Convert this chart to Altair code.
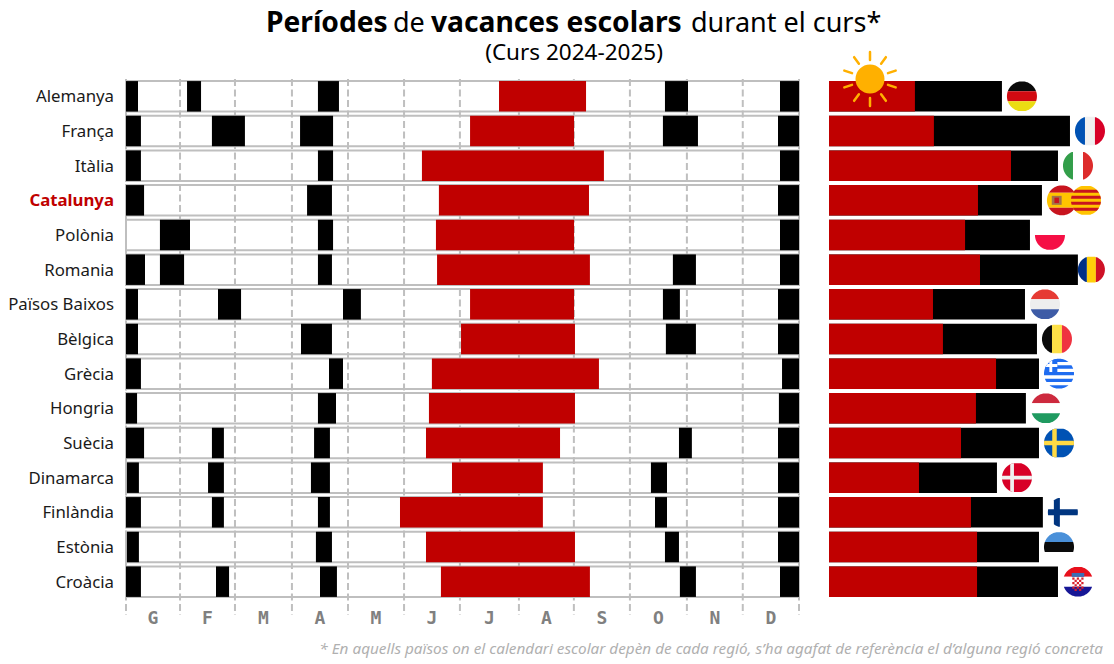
"""Script to recreate the school holidays chart (Curs 2024-2025)."""

import math

import altair as alt
import pandas as pd

FONT = "Noto Sans"
GREY = "#bfbfbf"
RED = "#c00000"

countries = ["Alemanya", "França", "Itàlia", "Catalunya", "Polònia", "Romania",
             "Països Baixos", "Bèlgica", "Grècia", "Hongria", "Suècia",
             "Dinamarca", "Finlàndia", "Estònia", "Croàcia"]

# start and end of the summer break, as day of the calendar year
summer_start = [202.3, 186.6, 160.5, 169.7, 168.1, 168.7, 186.6, 181.7,
                165.9, 164.3, 162.7, 176.8, 148.6, 162.7, 170.8]
summer_end = [249.5, 243.0, 259.2, 251.1, 243.0, 251.6, 243.0, 243.5,
              256.5, 243.5, 235.4, 226.1, 226.1, 243.5, 251.6]

# the other breaks of each country, in the same order
other_breaks = [
    [(0, 6.5), (33.1, 40.7), (104.1, 115.5), (292.3, 304.8), (354.7, 365)],
    [(0, 8.1), (46.6, 64.5), (94.4, 112.3), (291.2, 310.2), (353.6, 365)],
    [(0, 8.1), (104.1, 112.3), (354.7, 365)],
    [(0, 9.8), (98.2, 111.7), (353.6, 365)],
    [(18.4, 34.7), (104.1, 112.3), (354.7, 365)],
    [(0, 10.3), (18.4, 31.5), (104.1, 111.7), (296.6, 309.1), (354.7, 365)],
    [(0, 6.5), (49.9, 62.4), (117.7, 127.4), (291.2, 300.4), (353.6, 365)],
    [(0, 6.5), (94.9, 111.7), (292.8, 309.1), (353.6, 365)],
    [(0, 8.1), (110.1, 117.7), (355.8, 365)],
    [(0, 6), (104.1, 113.9), (354.1, 365)],
    [(0, 9.8), (46.6, 53.1), (102, 110.6), (299.9, 306.9), (353.6, 365)],
    [(0.5, 7), (44.5, 53.1), (100.3, 110.6), (284.7, 293.4), (353.6, 365)],
    [(0, 8.1), (46.6, 53.1), (104.1, 110.6), (286.9, 293.4), (353.6, 365)],
    [(0.5, 7), (103, 111.7), (292.3, 299.9), (353.6, 365)],
    [(0, 8.1), (48.8, 55.9), (105.2, 114.4), (300.4, 309.1), (354.7, 365)],
]

# total days in the right hand bars
summer_days = [46.6, 56.9, 98.7, 80.8, 73.8, 81.9, 56.4, 61.8,
               90.6, 79.7, 71.6, 48.8, 77.0, 80.3, 80.3]
other_days = [47.2, 73.8, 25.5, 34.7, 35.2, 53.1, 49.9, 51.0,
              23.3, 27.1, 42.3, 42.3, 39.0, 33.6, 43.9]

month_labels = ["G", "F", "M", "A", "M", "J", "J", "A", "S", "O", "N", "D"]
month_edges = [0, 29.3, 59.1, 90, 120.4, 150.8, 181.1, 213.1, 242.9, 273.3,
               304.2, 334.5, 365]


def disc_rect(x0, x1, y0, y1):
    """SVG path of a rectangle cut to the unit circle, for flag drawing."""
    left, right = [], []
    steps = 48
    for i in range(steps + 1):
        y = y0 + (y1 - y0) * i / steps
        half = math.sqrt(max(0, 1 - y * y))
        a, b = max(x0, -half), min(x1, half)
        if a < b:
            left.append(f"{a:.3f} {y:.3f}")
            right.append(f"{b:.3f} {y:.3f}")
    return "M" + " L".join(left + right[::-1]) + " Z"


def band(y0, y1, color):
    return (disc_rect(-1, 1, y0, y1), color)


def column(x0, x1, color):
    return (disc_rect(x0, x1, -1, 1), color)


def box(x0, x1, y0, y1, color):
    return (disc_rect(x0, x1, y0, y1), color)


def stripes(third_colors, maker):
    a, b, c = third_colors
    return [maker(-1, -1 / 3, a), maker(-1 / 3, 1 / 3, b), maker(1 / 3, 1, c)]


def checker():
    """Small red checks of the Croatian shield."""
    parts = []
    for i in range(5):
        for j in range(6):
            if (i + j) % 2 == 0:
                x, y = -0.38 + i * 0.15, -0.28 + j * 0.15
                parts.append(box(x, x + 0.15, y, y + 0.15, "#d8202c"))
    return parts


flag_parts = {
    "Alemanya": stripes(["#0a0a0a", "#d20a11", "#ebdc12"], band),
    "França": stripes(["#0052b4", "#f0f0f0", "#d80027"], column),
    "Itàlia": stripes(["#339e4a", "#ffffff", "#dd2c2c"], column),
    "Catalunya": [band(-1, -0.5, "#c8141e"), band(-0.5, 0.5, "#ffc400"),
                  band(0.5, 1, "#c8141e"), box(-0.68, -0.02, -0.3, 0.3, "#a2734a"),
                  box(-0.5, -0.2, -0.18, 0.18, "#c8141e")],
    "Polònia": [band(-1, 0, "#ffffff"), band(0, 1, "#f50f45")],
    "Països Baixos": stripes(["#e63b34", "#eeeeee", "#3d5ba6"], band),
    "Bèlgica": stripes(["#0a0a0a", "#fde047", "#ef3340"], column),
    "Grècia": [band(-1, 1, "#ffffff")]
    + [band(-1 + i * 2 / 9, -1 + (i + 1) * 2 / 9, "#1f6cf0") for i in (0, 2, 4, 6, 8)]
    + [box(-1, -0.11, -1, -0.11, "#1f6cf0"),
       box(-0.64, -0.45, -1, -0.11, "#ffffff"),
       box(-1, -0.11, -0.64, -0.45, "#ffffff")],
    "Hongria": stripes(["#cd2a3e", "#ffffff", "#1f9a60"], band),
    "Suècia": [band(-1, 1, "#0052b4"), column(-0.45, -0.15, "#ffda44"),
               band(-0.15, 0.15, "#ffda44")],
    "Dinamarca": [band(-1, 1, "#d80027"), column(-0.45, -0.2, "#f0f0f0"),
                  band(-0.13, 0.13, "#f0f0f0")],
    "Finlàndia": [column(-0.6, -0.2, "#003580"), band(-0.2, 0.2, "#003580")],
    "Estònia": stripes(["#4a90d9", "#0a0a0a", "#ffffff"], band),
    "Croàcia": stripes(["#e8101c", "#ffffff", "#171796"], band)
    + [box(-0.42, 0.42, -0.58, -0.32, "#3c6eb4")] + checker(),
}
romanian_flag = stripes(["#002f86", "#ffcf0a", "#ce1126"], column)
catalan_flag = [band(-1, 1, "#ffc400")] + [
    band(y, y + 0.2, "#c8141e") for y in (-0.7, -0.3, 0.1, 0.5)]

day_scale = alt.Scale(domain=[0, 365], nice=False, zero=False)
bar_scale = alt.Scale(domain=[0, 149.7], nice=False, zero=False)
row_scale = alt.Scale(domain=countries, paddingInner=0.12, paddingOuter=0.06)
row_y = alt.Y("country:N", scale=row_scale, axis=None, title=None)


def caption(text, x, y, size, **style):
    """A line of text placed relative to the left panel."""
    return alt.Chart(pd.DataFrame({"t": [text]})).mark_text(
        text=text, fontSize=size, font=FONT, baseline="alphabetic", **style
    ).encode(x=alt.value(x), y=alt.value(y))


def row_labels(names, **style):
    return alt.Chart(pd.DataFrame({"country": names})).mark_text(
        font=FONT, fontSize=16.8, align="right", dy=1, **style
    ).encode(x=alt.value(-12), y=row_y, text="country:N")


background = alt.Chart(pd.DataFrame({"country": countries, "a": 0, "b": 365})).mark_bar(
    fill="white", stroke=GREY, strokeWidth=2
).encode(
    x=alt.X("a:Q", scale=day_scale, axis=None),
    x2="b:Q",
    y=row_y,
)

edges = alt.Chart(pd.DataFrame({"day": month_edges})).mark_rule(
    color=GREY, strokeWidth=2, strokeDash=[7, 3.5]
).encode(
    x=alt.X("day:Q", scale=day_scale, axis=None),
    y=alt.value(0),
    y2=alt.value(536),
)

breaks_df = pd.DataFrame(
    [{"country": c, "a": a, "b": b}
     for c, spans in zip(countries, other_breaks) for a, b in spans]
)
breaks = alt.Chart(breaks_df).mark_bar(color="black").encode(
    x=alt.X("a:Q", scale=day_scale, axis=None), x2="b:Q", y=row_y
)

summer_df = pd.DataFrame({"country": countries, "a": summer_start, "b": summer_end})
summer = alt.Chart(summer_df).mark_bar(color=RED).encode(
    x=alt.X("a:Q", scale=day_scale, axis=None), x2="b:Q", y=row_y
)

month_df = pd.DataFrame({
    "label": month_labels,
    "mid": [(a + b) / 2 for a, b in zip(month_edges, month_edges[1:])],
})
months = alt.Chart(month_df).mark_text(
    font="DejaVu Sans Mono", fontWeight="bold", fontSize=18, color="#808080"
).encode(
    x=alt.X("mid:Q", scale=day_scale, axis=None),
    y=alt.value(540),
    text="label:N",
)

left = alt.layer(
    background, edges, breaks, summer, months,
    row_labels([c for c in countries if c != "Catalunya"], color="#1a1a1a"),
    row_labels(["Catalunya"], color="#c00000", fontWeight="bold"),
    caption("Períodes", 140, -47, 28.2, fontWeight="bold", align="left"),
    caption("de", 267, -47, 27, align="left"),
    caption("vacances escolars", 305, -47, 28.2, fontWeight="bold", align="left"),
    caption("durant el curs*", 565, -47, 27, align="left"),
    caption("(Curs 2024-2025)", 448, -19, 22.5, align="center"),
    caption("* En aquells països on el calendari escolar depèn de cada regió, "
            "s’ha agafat de referència el d’alguna regió concreta",
            977, 575, 15.3, fontStyle="italic", color="#b0b0b0", align="right"),
).properties(width=673, height=520)

totals = pd.DataFrame({
    "country": countries,
    "summer": summer_days,
    "total": [a + b for a, b in zip(summer_days, other_days)],
})
total_bars = alt.Chart(totals).mark_bar(color="black").encode(
    x=alt.X("total:Q", scale=bar_scale, axis=None), y=row_y
)
summer_bars = alt.Chart(totals).mark_bar(color=RED).encode(
    x=alt.X("summer:Q", scale=bar_scale, axis=None), y=row_y
)


def flag_layer(names, parts_of, offset, size=900):
    rows = [{"country": c, "total": totals.total[countries.index(c)], "path": p, "fill": f}
            for c in names for p, f in parts_of[c]]
    return alt.Chart(pd.DataFrame(rows)).mark_point(
        filled=True, size=size, opacity=1, xOffset=offset
    ).encode(
        x=alt.X("total:Q", scale=bar_scale, axis=None),
        y=row_y,
        shape=alt.Shape("path:N", scale=None),
        fill=alt.Fill("fill:N", scale=None),
    )


flags = flag_layer(list(flag_parts), flag_parts, 20)
# the page is narrower than the reference, so this flag sits closer to its bar
romania = flag_layer(["Romania"], {"Romania": romanian_flag}, 13.5, size=729)
catalan = flag_layer(["Catalunya"], {"Catalunya": catalan_flag}, 44)

ray_path = " ".join(
    f"M{0.7 * math.sin(math.radians(a)):.3f} {-0.7 * math.cos(math.radians(a)):.3f} "
    f"L{math.sin(math.radians(a)):.3f} {-math.cos(math.radians(a)):.3f}"
    for a in range(0, 360, 36)
)
sun_rays = alt.Chart(pd.DataFrame({"t": [0]})).mark_point(
    shape=ray_path, size=2916, stroke="#ffb000", strokeWidth=2.5, strokeCap="round",
    opacity=1
).encode(x=alt.value(41), y=alt.value(0))
sun_disc = alt.Chart(pd.DataFrame({"t": [0]})).mark_point(
    shape="circle", size=841, filled=True, color="#ffb000", opacity=1
).encode(x=alt.value(41), y=alt.value(0))

right = alt.layer(total_bars, summer_bars, flags, romania, catalan, sun_rays, sun_disc).properties(
    width=276, height=520
)

chart = alt.hconcat(left, right, spacing=30, bounds="flush").resolve_scale(
    x="independent", y="independent"
).properties(padding={"left": 0, "top": 1, "right": 0, "bottom": 0}).configure_view(stroke=None)

chart.save("out.html", embed_options={"renderer": "svg", "actions": False})
